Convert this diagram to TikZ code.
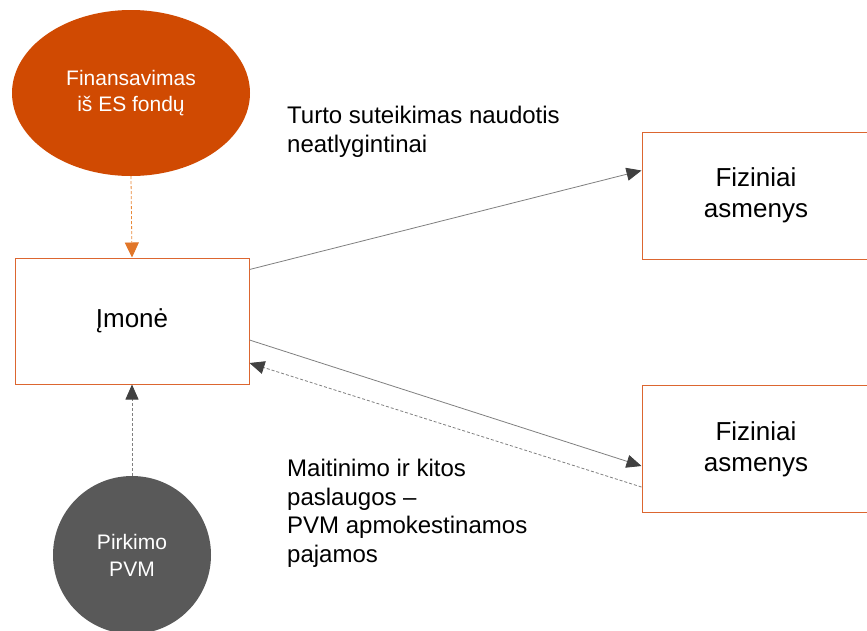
\documentclass[tikz,border=0pt]{standalone}
\usepackage{fontspec}
\setmainfont{Liberation Sans}
\usetikzlibrary{arrows.meta,shapes.geometric}
\definecolor{pwcorange}{HTML}{D04A02}
\definecolor{boxedge}{HTML}{DC6630}
\definecolor{dashorange}{HTML}{E8893A}
\definecolor{linegray}{HTML}{7F7F7F}
\definecolor{tipgray}{HTML}{404040}
\definecolor{circgray}{HTML}{595959}
\tikzset{
  box/.style={draw=boxedge, line width=1pt, minimum width=234pt, minimum height=126pt, align=center, font=\fontsize{26}{31}\selectfont},
  link/.style={draw=linegray, line width=0.8pt, -{Triangle[length=15pt,width=13pt,color=tipgray]}},
  dlink/.style={link, dash pattern=on 3pt off 2pt},
  note/.style={anchor=north west, inner sep=0pt, align=left, font=\fontsize{24}{28.6}\selectfont}
}
\begin{document}
\begin{tikzpicture}[x=1pt,y=-1pt]
  \useasboundingbox (0,0) rectangle (867,630);
  \clip (0,0) rectangle (867,630);
  \node[ellipse, fill=pwcorange, minimum width=238pt, minimum height=166pt, align=center, text=white, font=\fontsize{21}{26}\selectfont] (fund) at (131,93) {Finansavimas\\iš ES fondų};
  \node[box] (imone) at (132,321) {Įmonė};
  \node[box, minimum width=228pt, minimum height=127pt] (fiz1) at (756,195.5) {Fiziniai\\asmenys};
  \node[box, minimum width=228pt, minimum height=127pt] (fiz2) at (756,449) {Fiziniai\\asmenys};
  \node[circle, fill=circgray, minimum size=158pt, align=center, text=white, font=\fontsize{21}{27}\selectfont] (pvm) at (132,555) {Pirkimo\\PVM};
  \node[note] (turtas) at (287,106) {Turto suteikimas naudotis\\neatlygintinai};
  \node[note] (maist) at (287,459) {Maitinimo ir kitos\\paslaugos –\\PVM apmokestinamos\\pajamos};
  % rodykles
  \draw[dashorange, line width=0.8pt, dash pattern=on 3pt off 2pt, -{Triangle[length=15pt,width=14pt,color=dashorange!70!pwcorange]}] (fund.south) -- (imone.north);
  \draw[link] ([yshift=-12pt]imone.north east) -- ([yshift=25pt]fiz1.west);
  \draw[link] ([yshift=-19pt]imone.east) -- ([yshift=-17pt]fiz2.west);
  \draw[dlink] ([yshift=-38pt]fiz2.west) -- ([yshift=-42pt]imone.east);
  \draw[dlink] (pvm.north) -- (imone.south);
\end{tikzpicture}
\end{document}
